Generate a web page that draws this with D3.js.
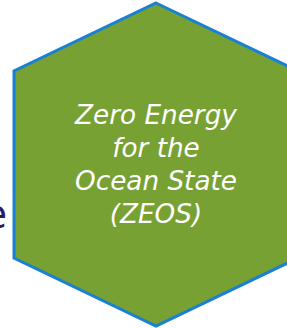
<!DOCTYPE html>
<html>
<head>
<meta charset="utf-8">
<script src="https://cdn.jsdelivr.net/npm/d3@7"></script>
<style>
  html, body { margin: 0; padding: 0; background: #fff; overflow: hidden; }
</style>
</head>
<body>
<div id="chart"></div>
<script>
// label lines inside the hexagon
const labelLines = ['Zero Energy', 'for the', 'Ocean State', '(ZEOS)'];
// trailing letter of the neighbouring word, cut by the left edge
const neighbourText = ['e'];

const config = {
  width: 287,
  height: 328,
  hex: { cx: 156, top: 3, bottom: 326, halfWidth: 142, shoulder: 68 },
  fill: '#77a132',
  stroke: '#1a80d4',
  lineGap: 33,
  firstBaseline: 124,
  targetWidth: 162,
};

const svg = d3.select('#chart').append('svg')
  .attr('width', config.width)
  .attr('height', config.height);

// neighbour letter (mostly outside the frame)
svg.selectAll('.neighbour')
  .data(neighbourText)
  .enter()
  .append('text')
  .attr('class', 'neighbour')
  .attr('x', 7)
  .attr('y', 228)
  .attr('text-anchor', 'end')
  .attr('font-family', 'DejaVu Sans, sans-serif')
  .attr('font-size', 40)
  .attr('fill', '#2b1b6b')
  .text((d) => d);

// hexagon outline, built from its bounding shape
const h = config.hex;
const x = d3.scaleLinear().domain([-1, 1]).range([h.cx - h.halfWidth, h.cx + h.halfWidth]);
const y = d3.scaleLinear().domain([0, 1]).range([h.top, h.bottom]);
const sh = h.shoulder / (h.bottom - h.top);
const hexPoints = [[0, 0], [1, sh], [1, 1 - sh], [0, 1], [-1, 1 - sh], [-1, sh]];

svg.append('path')
  .attr('d', d3.line().x((d) => x(d[0])).y((d) => y(d[1])).curve(d3.curveLinearClosed)(hexPoints))
  .attr('fill', config.fill)
  .attr('stroke', config.stroke)
  .attr('stroke-width', 3)
  .attr('stroke-linejoin', 'miter');

// label
const label = svg.append('g')
  .attr('class', 'hex-label')
  .attr('font-family', 'DejaVu Sans, sans-serif')
  .attr('font-style', 'italic')
  .attr('fill', '#fff')
  .attr('text-anchor', 'middle');

const lines = label.selectAll('text')
  .data(labelLines)
  .enter()
  .append('text')
  .attr('x', h.cx)
  .attr('y', (d, i) => config.firstBaseline + i * config.lineGap)
  .attr('font-size', 24)
  .text((d) => d);

// fit font so the widest line matches the reference width
const widest = d3.max(lines.nodes(), (n) => n.getComputedTextLength());
lines.attr('font-size', 24 * config.targetWidth / widest);
</script>
</body>
</html>
